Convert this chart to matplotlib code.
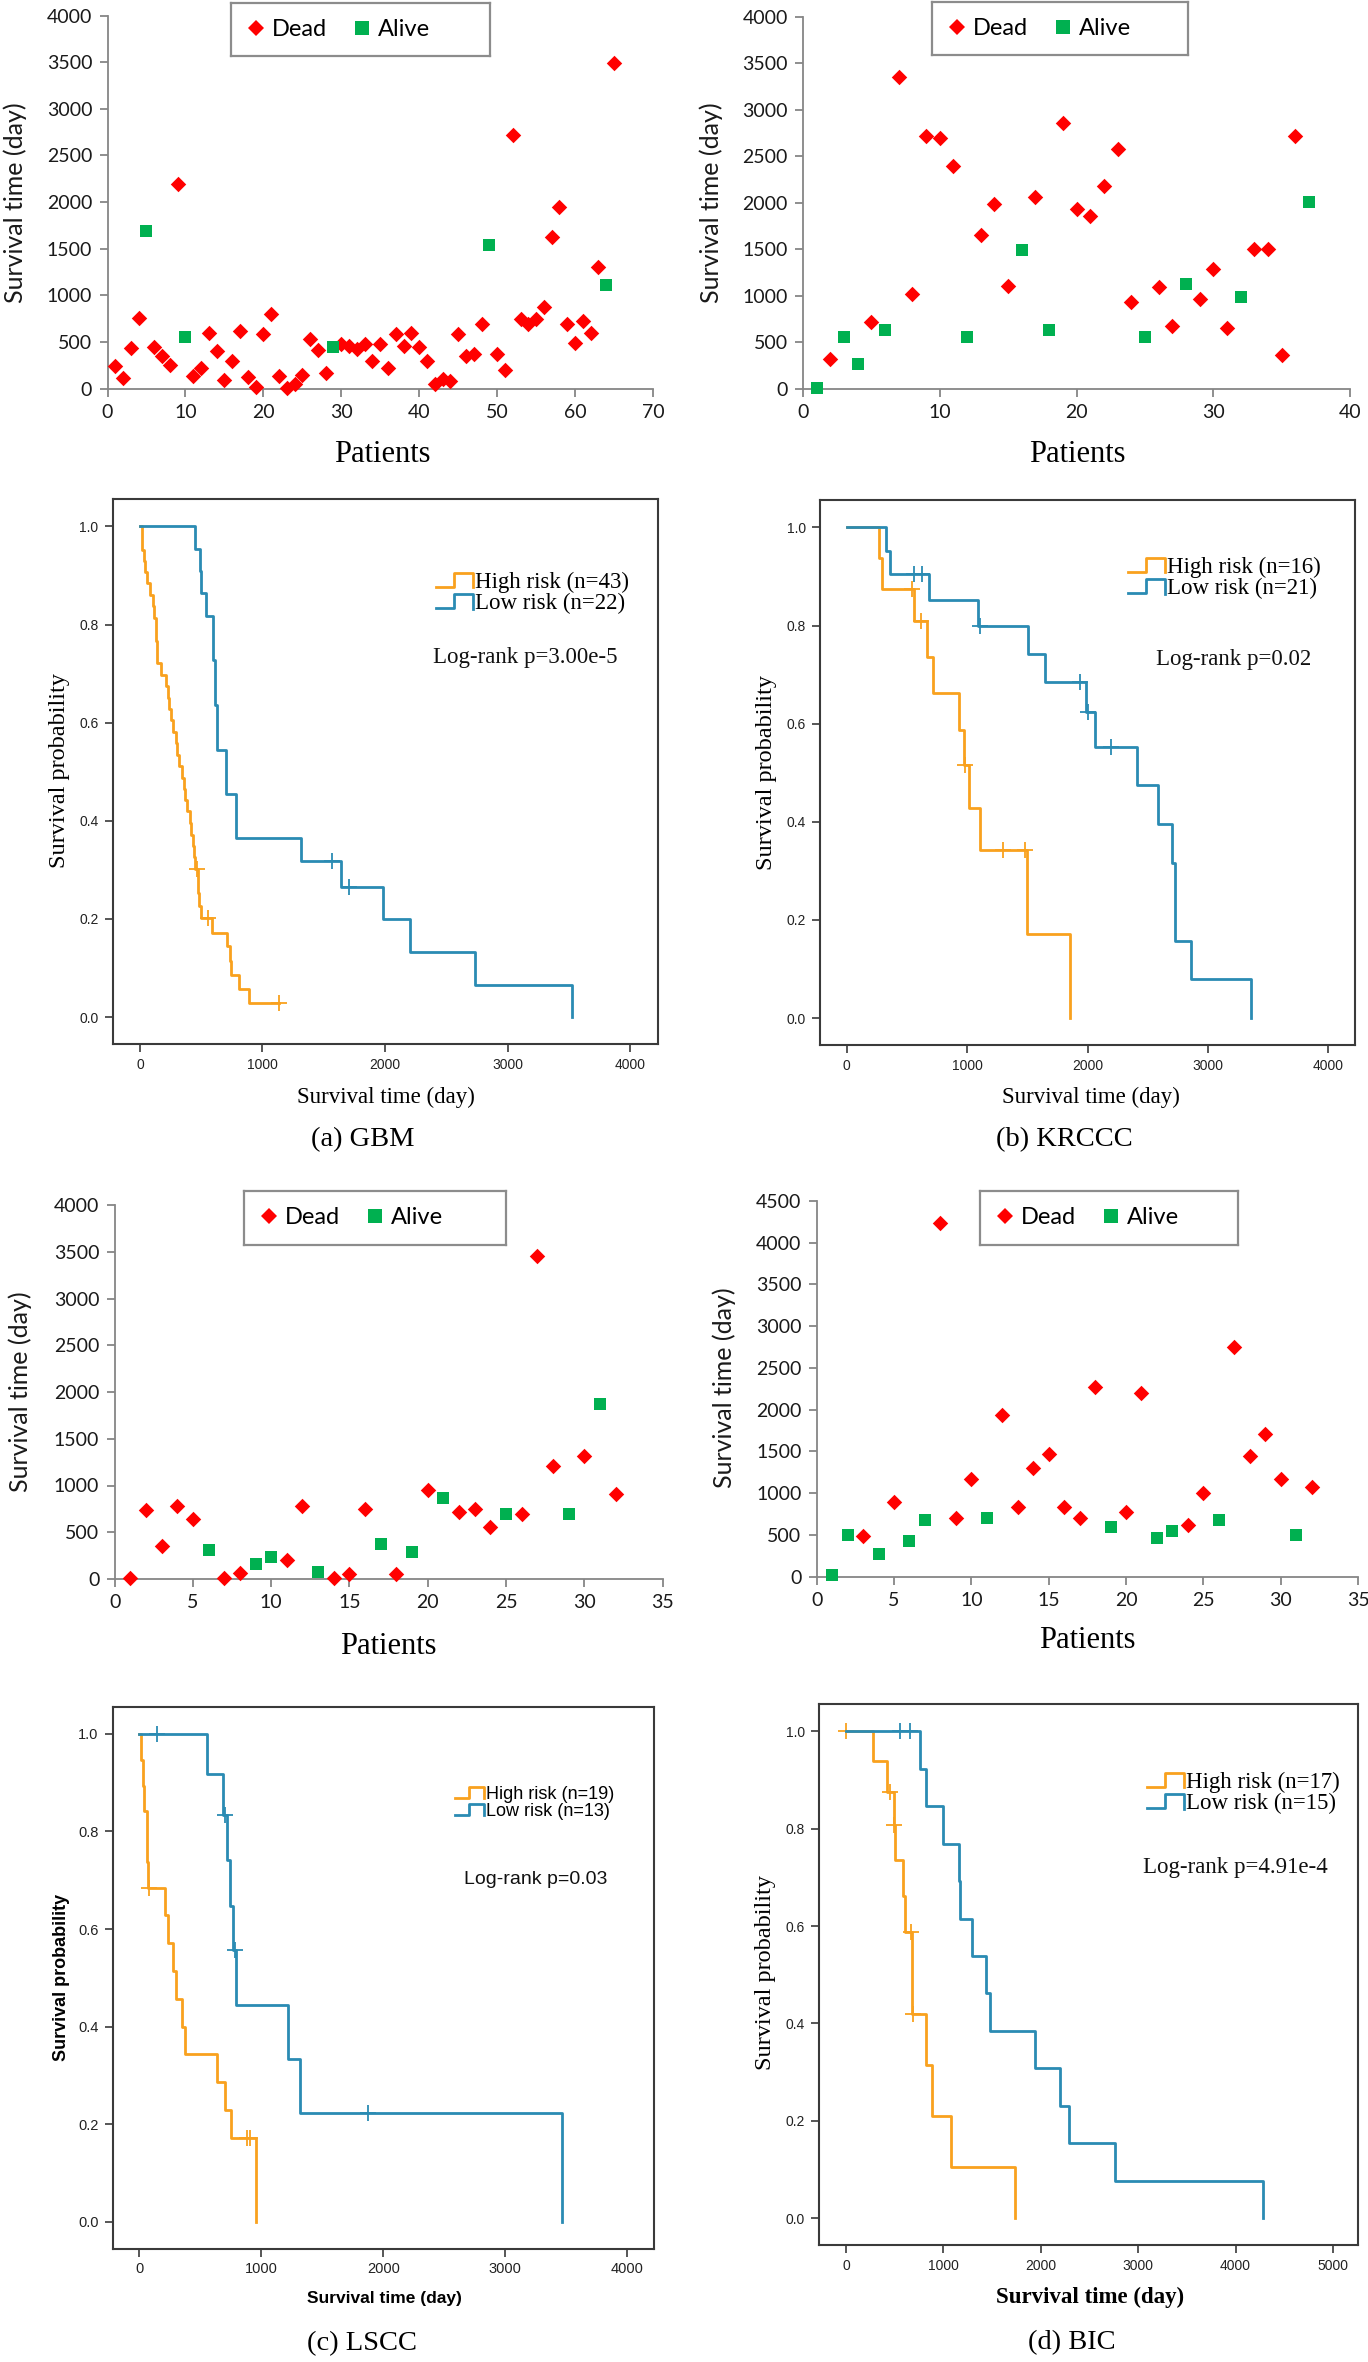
import numpy as np
import matplotlib.pyplot as plt
from matplotlib.lines import Line2D
from matplotlib.legend_handler import HandlerBase

# ---- scatter data: survival time (day) per patient, and which patients are alive ----
gbm_time = [243, 118, 430, 760, 1690, 440, 350, 255, 2190, 550, 130, 225, 600, 400, 90, 300,
            620, 120, 15, 580, 800, 130, 10, 50, 140, 530, 410, 170, 440, 475, 460, 420, 475,
            300, 475, 215, 590, 460, 600, 440, 300, 45, 100, 85, 580, 350, 365, 690, 1540,
            365, 200, 2720, 745, 690, 745, 870, 1630, 1950, 690, 490, 720, 600, 1300, 1110, 3490]
gbm_alive = [5, 10, 29, 49, 64]

kr_time = [10, 320, 555, 270, 715, 630, 3350, 1020, 2720, 2700, 2400, 555, 1650, 1990, 1110,
           1490, 2060, 630, 2860, 1935, 1860, 2180, 2580, 930, 555, 1095, 680, 1130, 965, 1290,
           660, 985, 1500, 1500, 360, 2720, 2010]
kr_alive = [1, 3, 4, 6, 12, 16, 18, 25, 28, 32, 37]

ls_time = [10, 735, 350, 785, 645, 315, 15, 65, 160, 230, 205, 785, 80, 15, 55, 750, 375, 55,
           285, 950, 870, 715, 750, 555, 700, 700, 3455, 1205, 700, 1320, 1875, 910]
ls_alive = [6, 9, 10, 13, 17, 19, 21, 25, 29, 31]

bic_time = [20, 500, 490, 270, 890, 430, 680, 4240, 700, 1170, 700, 1935, 840, 1300, 1475, 840,
            700, 2275, 600, 780, 2195, 460, 550, 620, 1000, 680, 2755, 1440, 1715, 1170, 500, 1070]
bic_alive = [1, 2, 4, 6, 7, 11, 19, 22, 23, 26, 31]

# ---- Kaplan-Meier curves: step times, survival after each step, censor times ----
gbm_hi_t = [14, 30, 43, 60, 80, 103, 115, 128, 133, 136, 139, 171, 214, 230, 238, 255, 267, 295,
            305, 320, 340, 359, 370, 381, 409, 420, 431, 440, 452, 470, 477, 485, 495, 587, 708,
            733, 744, 808, 886]
gbm_hi_s = [0.953, 0.930, 0.907, 0.884, 0.860, 0.837, 0.814, 0.791, 0.767, 0.744, 0.721, 0.698,
            0.674, 0.651, 0.628, 0.605, 0.581, 0.558, 0.535, 0.512, 0.488, 0.465, 0.442, 0.419,
            0.395, 0.372, 0.349, 0.326, 0.302, 0.277, 0.252, 0.227, 0.201, 0.172, 0.144, 0.115,
            0.086, 0.057, 0.029]
gbm_hi_c = [466, 559, 1135]
gbm_lo_t = [452, 487, 502, 541, 598, 612, 626, 701, 783, 1313, 1644, 1982, 2203, 2737, 3530]
gbm_lo_s = [0.955, 0.909, 0.864, 0.818, 0.727, 0.636, 0.545, 0.455, 0.364, 0.318, 0.265, 0.199,
            0.133, 0.066, 0.0]
gbm_lo_c = [1569, 1705]

kr_hi_t = [267, 293, 557, 667, 714, 934, 971, 1015, 1110, 1502, 1857]
kr_hi_s = [0.938, 0.875, 0.809, 0.735, 0.662, 0.588, 0.515, 0.429, 0.343, 0.172, 0.0]
kr_hi_c = [546, 619, 985, 1300, 1484]
kr_lo_t = [326, 363, 685, 1095, 1509, 1648, 1985, 2059, 2407, 2582, 2700, 2729, 2857, 3359]
kr_lo_s = [0.952, 0.905, 0.852, 0.799, 0.742, 0.685, 0.623, 0.553, 0.474, 0.396, 0.316, 0.158,
           0.079, 0.0]
kr_lo_c = [557, 630, 1110, 1938, 2004, 2198]

ls_hi_t = [11, 29, 36, 60, 64, 68, 208, 233, 279, 300, 347, 372, 637, 698, 751, 959]
ls_hi_s = [0.947, 0.894, 0.842, 0.789, 0.737, 0.684, 0.628, 0.571, 0.514, 0.457, 0.400, 0.343,
           0.286, 0.229, 0.171, 0.0]
ls_hi_c = [75, 884, 909]
ls_lo_t = [555, 685, 719, 744, 769, 794, 1216, 1317, 3470]
ls_lo_s = [0.917, 0.833, 0.741, 0.648, 0.556, 0.444, 0.333, 0.222, 0.0]
ls_lo_c = [143, 700, 784, 1878]

bic_hi_t = [276, 425, 490, 500, 584, 606, 676, 680, 824, 887, 1081, 1738]
bic_hi_s = [0.938, 0.875, 0.808, 0.735, 0.662, 0.588, 0.504, 0.420, 0.315, 0.210, 0.105, 0.0]
bic_hi_c = [0, 448, 495, 672, 690]
bic_lo_t = [765, 824, 1000, 1163, 1170, 1299, 1434, 1480, 1941, 2199, 2294, 2765, 4281]
bic_lo_s = [0.923, 0.846, 0.769, 0.692, 0.615, 0.538, 0.462, 0.385, 0.308, 0.231, 0.154, 0.077, 0.0]
bic_lo_c = [552, 661]

W, H = 1368, 2362
fig = plt.figure(figsize=(W / 100, H / 100), dpi=100)

SERIF = 'Liberation Serif'
SANS = 'Liberation Sans'
CAL = 'Lato'
ORANGE = '#F9A11E'
BLUE = '#2A8BB3'


def box(l, t, r, b):
    return [l / W, 1 - b / H, (r - l) / W, (b - t) / H]


def put(x, y, s, **kw):
    kw.setdefault('ha', 'center')
    fig.text(x / W, 1 - y / H, s, va='center', **kw)


def scatter_panel(pos, times, alive, xmax, xstep, ymax, legpos):
    ax = fig.add_axes(box(*pos))
    pid = np.arange(1, len(times) + 1)
    t = np.array(times)
    a = np.isin(pid, alive)
    ax.scatter(pid[~a], t[~a], marker='D', s=62, color='#FF0000', lw=0, zorder=3, clip_on=False)
    ax.scatter(pid[a], t[a], marker='s', s=85, color='#00B050', lw=0, zorder=3, clip_on=False)
    ax.set_xlim(0, xmax)
    ax.set_ylim(0, ymax)
    ax.set_xticks(np.arange(0, xmax + 1, xstep))
    ax.set_yticks(np.arange(0, ymax + 1, 500))
    for s in ['top', 'right']:
        ax.spines[s].set_visible(False)
    for s in ['left', 'bottom']:
        ax.spines[s].set_color('#868686')
        ax.spines[s].set_linewidth(1.3)
    ax.tick_params(direction='out', length=6, width=1.3, color='#868686',
                   labelsize=14, labelcolor='#1a1a1a', pad=5)
    for lab in ax.get_xticklabels() + ax.get_yticklabels():
        lab.set_family(CAL)

    lax = fig.add_axes(box(*legpos))
    lax.set_xticks([])
    lax.set_yticks([])
    for s in lax.spines.values():
        s.set_color('#8c8c8c')
        s.set_linewidth(1.6)
    hd = [Line2D([], [], marker='D', ls='', color='#FF0000', ms=8.5, mew=0),
          Line2D([], [], marker='s', ls='', color='#00B050', ms=9.5, mew=0)]
    lax.legend(hd, ['Dead', 'Alive'], ncol=2, loc='center left', frameon=False,
               prop={'family': CAL, 'size': 17}, handletextpad=0.25, columnspacing=1.0,
               handlelength=0.9, borderaxespad=0.2)
    return ax


class StepHandler(HandlerBase):
    def create_artists(self, legend, orig, xd, yd, w, h, fs, trans):
        xs = np.array([0, 0.5, 0.5, 1.0, 1.0]) * w - xd
        ys = np.array([0.1, 0.1, 0.95, 0.95, 0.05]) * h - yd
        return [Line2D(xs, ys, color=orig.get_color(), lw=orig.get_linewidth(), transform=trans)]


def km_curve(ax, t, s, c, color):
    xs = [0] + list(t)
    ys = [1.0] + list(s)
    if c and max(c) > xs[-1]:
        xs.append(max(c))
        ys.append(ys[-1])
    ln, = ax.step(xs, ys, where='post', color=color, lw=2.0)
    cy = [ys[np.searchsorted(xs, ci, side='right') - 1] for ci in c]
    ax.plot(c, cy, ls='', marker='+', ms=11, mew=1.3, color=color)
    return ln


def km_panel(pos, xlim, xmax, hi, lo, labels, leg_xy, legfont, legsize,
             logrank, lr_xy, lrsize, ticksize):
    ax = fig.add_axes(box(*pos))
    l1 = km_curve(ax, *hi, ORANGE)
    l2 = km_curve(ax, *lo, BLUE)
    ax.set_xlim(*xlim)
    ax.set_ylim(-0.055, 1.056)
    ax.set_xticks(np.arange(0, xmax + 1, 1000))
    ax.set_yticks(np.arange(0, 1.01, 0.2))
    ax.set_yticklabels(['%.1f' % v for v in np.arange(0, 1.01, 0.2)])
    for s in ax.spines.values():
        s.set_color('#3a3a3a')
        s.set_linewidth(1.5)
    ax.tick_params(direction='out', length=6, width=1.2, color='#3a3a3a',
                   labelsize=ticksize, labelcolor='#222222', pad=4)
    for lab in ax.get_xticklabels() + ax.get_yticklabels():
        lab.set_family(SANS)
    ax.legend([l1, l2], labels, loc='upper left',
              bbox_to_anchor=(leg_xy[0] / W, 1 - leg_xy[1] / H), bbox_transform=fig.transFigure,
              frameon=False, prop={'family': legfont, 'size': legsize},
              handler_map={Line2D: StepHandler()}, handlelength=1.6, handletextpad=0.1,
              labelspacing=0.0, borderpad=0, borderaxespad=0)
    put(lr_xy[0], lr_xy[1], logrank, ha='left', family=legfont, fontsize=lrsize, color='#111111')
    return ax


# ---- row 1: GBM / KRCCC ----
scatter_panel((107.5, 15.7, 653, 388.5), gbm_time, gbm_alive, 70, 10, 4000, (231, 3, 490, 56))
scatter_panel((803, 16.7, 1350, 389), kr_time, kr_alive, 40, 10, 4000, (932, 2, 1188, 55))
for x in (15, 711):
    put(x, 203, 'Survival time (day)', family=CAL, fontsize=18, rotation=90, color='#1a1a1a')
put(382, 455, 'Patients', family=SERIF, fontsize=22)
put(1077, 455, 'Patients', family=SERIF, fontsize=22)

km_panel((112.5, 499, 658, 1044), (-224, 4228), 4000,
         (gbm_hi_t, gbm_hi_s, gbm_hi_c), (gbm_lo_t, gbm_lo_s, gbm_lo_c),
         ['High risk (n=43)', 'Low risk (n=22)'], (436, 572), SERIF, 16.5,
         'Log-rank p=3.00e-5', (433, 658), 16.5, 10)
km_panel((820, 500, 1355, 1045), (-220, 4220), 4000,
         (kr_hi_t, kr_hi_s, kr_hi_c), (kr_lo_t, kr_lo_s, kr_lo_c),
         ['High risk (n=16)', 'Low risk (n=21)'], (1128, 557), SERIF, 16.5,
         'Log-rank p=0.02', (1156, 659), 16.5, 10)
put(59, 771, 'Survival probability', family=SERIF, fontsize=17.5, rotation=90)
put(767, 773, 'Survival probability', family=SERIF, fontsize=17.5, rotation=90)
put(386, 1097, 'Survival time (day)', family=SERIF, fontsize=16.5)
put(1091, 1097, 'Survival time (day)', family=SERIF, fontsize=16.5)
put(363, 1140, '(a) GBM', family=SERIF, fontsize=20.5)
put(1064, 1140, '(b) KRCCC', family=SERIF, fontsize=20.5)

# ---- row 2: LSCC / BIC ----
scatter_panel((114.6, 1205, 662.6, 1579), ls_time, ls_alive, 35, 5, 4000, (244, 1191, 506, 1245))
scatter_panel((816.7, 1201, 1358, 1576.7), bic_time, bic_alive, 35, 5, 4500, (980, 1191, 1238, 1245))
put(20, 1392, 'Survival time (day)', family=CAL, fontsize=18, rotation=90, color='#1a1a1a')
put(724, 1388, 'Survival time (day)', family=CAL, fontsize=18, rotation=90, color='#1a1a1a')
put(388, 1646, 'Patients', family=SERIF, fontsize=22)
put(1087, 1641, 'Patients', family=SERIF, fontsize=22)

km_panel((112.5, 1706.6, 654, 2248.5), (-221, 4221), 4000,
         (ls_hi_t, ls_hi_s, ls_hi_c), (ls_lo_t, ls_lo_s, ls_lo_c),
         ['High risk (n=19)', 'Low risk (n=13)'], (455, 1786), SANS, 13,
         'Log-rank p=0.03', (464, 1879), 14, 10.5)
km_panel((819, 1704, 1358, 2245), (-277, 5257), 5000,
         (bic_hi_t, bic_hi_s, bic_hi_c), (bic_lo_t, bic_lo_s, bic_lo_c),
         ['High risk (n=17)', 'Low risk (n=15)'], (1147, 1772), SERIF, 16.5,
         'Log-rank p=4.91e-4', (1143, 1868), 16.5, 10)
put(61, 1977, 'Survival probability', family=SANS, fontsize=13, weight='bold', rotation=90)
put(766, 1973, 'Survival probability', family=SERIF, fontsize=17.5, rotation=90)
put(384, 2299, 'Survival time (day)', family=SANS, fontsize=12.5, weight='bold')
put(1090, 2297, 'Survival time (day)', family=SERIF, fontsize=16.5, weight='bold')
put(362, 2344, '(c) LSCC', family=SERIF, fontsize=20.5)
put(1072, 2343, '(d) BIC', family=SERIF, fontsize=20.5)

fig.savefig('out.png', dpi=100, facecolor='white')
